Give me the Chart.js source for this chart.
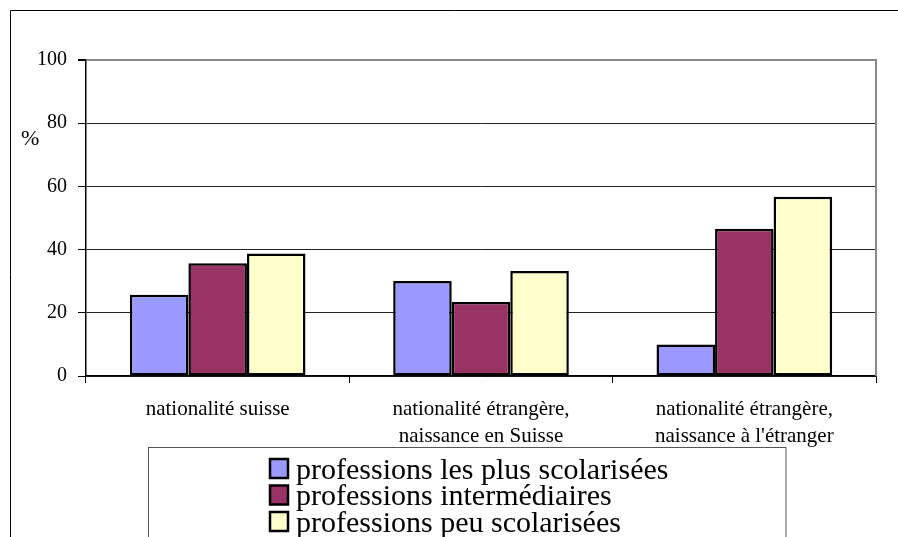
<!DOCTYPE html>
<html>
<head>
<meta charset="utf-8">
<script src="https://cdn.jsdelivr.net/npm/chart.js@4/dist/chart.umd.min.js"></script>
<style>
  html, body { margin: 0; padding: 0; background: #fff; }
  #wrap { width: 898px; height: 537px; position: relative; }
</style>
</head>
<body>
<div id="wrap"><canvas id="c" width="898" height="537"></canvas></div>
<script>
const categories = [
  "nationalité suisse",
  ["nationalité étrangère,", "naissance en Suisse"],
  ["nationalité étrangère,", "naissance à l'étranger"]
];
const seriesLabels = [
  "professions les plus scolarisées",
  "professions intermédiaires",
  "professions peu scolarisées"
];
const seriesColors = ["#9999FF", "#993366", "#FFFFCC"];
const plusScolarisees = [25.7, 30.1, 10.0];
const intermediaires = [35.7, 23.4, 46.6];
const peuScolarisees = [38.8, 33.2, 56.7];
const yTicks = [0, 20, 40, 60, 80, 100];
const yAxisLabel = "%";

const seriesValues = [plusScolarisees, intermediaires, peuScolarisees];

Chart.defaults.font.family = "'Liberation Serif', 'Times New Roman', serif";
Chart.defaults.color = "#000";

const decorPlugin = {
  id: 'decor',
  afterDatasetsDraw(chart) {
    const { ctx, chartArea } = chart;
    ctx.save();
    ctx.strokeStyle = '#888';
    ctx.lineWidth = 2;
    ctx.beginPath();
    ctx.moveTo(chartArea.right, chartArea.top - 1);
    ctx.lineTo(chartArea.right, chartArea.bottom);
    ctx.stroke();
    ctx.restore();
  },
  afterDraw(chart) {
    const { ctx } = chart;
    ctx.save();
    ctx.strokeStyle = '#000';
    ctx.lineWidth = 1;
    ctx.beginPath();
    ctx.moveTo(10.5, 600);
    ctx.lineTo(10.5, 10.5);
    ctx.lineTo(900, 10.5);
    ctx.stroke();
    ctx.fillStyle = '#000';
    ctx.font = "22px 'Liberation Serif', serif";
    ctx.textAlign = 'left';
    ctx.textBaseline = 'alphabetic';
    ctx.fillText(yAxisLabel, 21, 145);
    ctx.fillStyle = '#fff';
    ctx.fillRect(148.5, 447.5, 637.5, 100);
    ctx.strokeStyle = '#555';
    ctx.lineWidth = 1;
    ctx.strokeRect(148.5, 447.5, 637.5, 100);
    ctx.font = "30px 'Liberation Serif', serif";
    for (let i = 0; i < seriesLabels.length; i++) {
      const y = 459 + i * 26.5;
      ctx.fillStyle = seriesColors[i];
      ctx.fillRect(270, y, 18, 19);
      ctx.strokeStyle = '#000';
      ctx.lineWidth = 2.5;
      ctx.strokeRect(270, y, 18, 19);
      ctx.fillStyle = '#000';
      ctx.fillText(seriesLabels[i], 296, y + 19.5);
    }
    ctx.restore();
  }
};

new Chart(document.getElementById('c'), {
  type: 'bar',
  data: {
    labels: categories,
    datasets: seriesLabels.map((lab, i) => ({
      label: lab,
      data: seriesValues[i],
      backgroundColor: seriesColors[i],
      borderColor: '#000',
      borderWidth: 2.5,
      borderSkipped: false,
      barPercentage: 1.0,
      categoryPercentage: 0.667
    }))
  },
  options: {
    responsive: false,
    animation: false,
    devicePixelRatio: 1,
    layout: { padding: { left: 0, right: 22, top: 60, bottom: 0 } },
    plugins: {
      legend: { display: false },
      tooltip: { enabled: false }
    },
    scales: {
      x: {
        offset: true,
        grid: {
          offset: true,
          drawOnChartArea: false,
          drawTicks: true,
          tickLength: 7,
          color: '#000',
          tickColor: '#000'
        },
        border: { display: true, color: '#000', width: 1.5 },
        ticks: {
          maxRotation: 0,
          minRotation: 0,
          autoSkip: false,
          padding: 13,
          color: '#000',
          font: { size: 21, lineHeight: 1.3 }
        },
        afterFit(scale) { scale.height = 161; }
      },
      y: {
        min: 0,
        max: 100,
        afterBuildTicks(scale) { scale.ticks = yTicks.map(v => ({ value: v })); },
        grid: {
          color: (c) => (c.tick && c.tick.value === 100 ? '#888' : '#222'),
          lineWidth: (c) => (c.tick && c.tick.value === 100 ? 2 : 1),
          tickColor: '#000',
          tickLength: 8,
          drawTicks: true
        },
        border: { display: true, color: '#000', width: 1.5 },
        ticks: {
          padding: 11,
          color: '#000',
          font: { size: 20 }
        },
        afterFit(scale) { scale.width = 86; }
      }
    }
  },
  plugins: [decorPlugin]
});
</script>
</body>
</html>
